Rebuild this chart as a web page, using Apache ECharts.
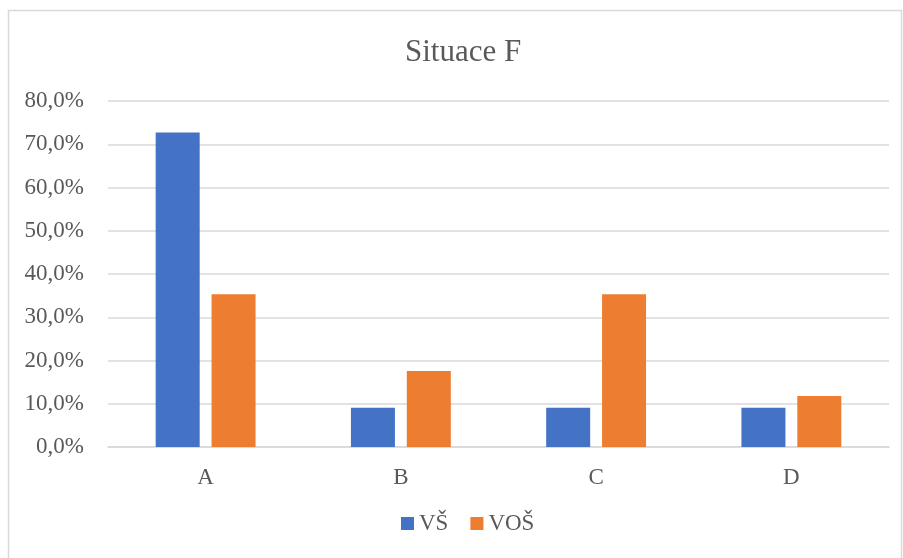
<!DOCTYPE html>
<html>
<head>
<meta charset="utf-8">
<script src="https://cdn.jsdelivr.net/npm/echarts@6/dist/echarts.min.js"></script>
<style>
  html, body { margin: 0; padding: 0; background: #fff; }
  #chart { width: 903px; height: 558px; }
</style>
</head>
<body>
<div id="chart"></div>
<script>
// data
var categories = ['A', 'B', 'C', 'D'];
var vsValues = [72.7, 9.1, 9.1, 9.1];
var vosValues = [35.3, 17.6, 35.3, 11.8];
var seriesNames = ['VŠ', 'VOŠ'];

var serif = '"Liberation Serif", "DejaVu Serif", serif';
var textColor = '#595959';

var myChart = echarts.init(document.getElementById('chart'));
var option = {
  animation: false,
  title: {
    text: 'Situace F',
    left: 400,
    top: 32,
    textStyle: { fontFamily: serif, fontSize: 31, fontWeight: 'normal', color: textColor }
  },
  graphic: [{
    type: 'rect',
    shape: { x: 8.5, y: 10.5, width: 893, height: 560 },
    style: { fill: 'none', stroke: '#d9d9d9', lineWidth: 1.5 },
    silent: true
  }],
  legend: {
    bottom: 18,
    left: 396,
    itemWidth: 13,
    itemHeight: 13,
    itemGap: 22,
    icon: 'rect',
    textStyle: { fontFamily: serif, fontSize: 23, color: textColor },
    data: seriesNames
  },
  grid: { left: 108, right: 14, top: 101, bottom: 111 },
  xAxis: {
    type: 'category',
    data: categories,
    axisLine: { lineStyle: { color: '#d9d9d9', width: 1.5 } },
    axisTick: { show: false },
    axisLabel: { fontFamily: serif, fontSize: 23, color: textColor, margin: 19 }
  },
  yAxis: {
    type: 'value',
    min: 0,
    max: 80,
    interval: 10,
    axisLine: { show: false },
    axisTick: { show: false },
    splitLine: { lineStyle: { color: '#d9d9d9', width: 1.5 } },
    axisLabel: {
      fontFamily: serif, fontSize: 23, color: textColor, margin: 24,
      formatter: function (v) { return v.toFixed(1).replace('.', ',') + '%'; }
    }
  },
  series: [{
    name: seriesNames[0],
    type: 'bar',
    data: vsValues,
    barWidth: 44,
    barGap: '27%',
    itemStyle: { color: '#4472c4' }
  }, {
    name: seriesNames[1],
    type: 'bar',
    data: vosValues,
    barWidth: 44,
    itemStyle: { color: '#ed7d31' }
  }]
};
myChart.setOption(option);
</script>
</body>
</html>
